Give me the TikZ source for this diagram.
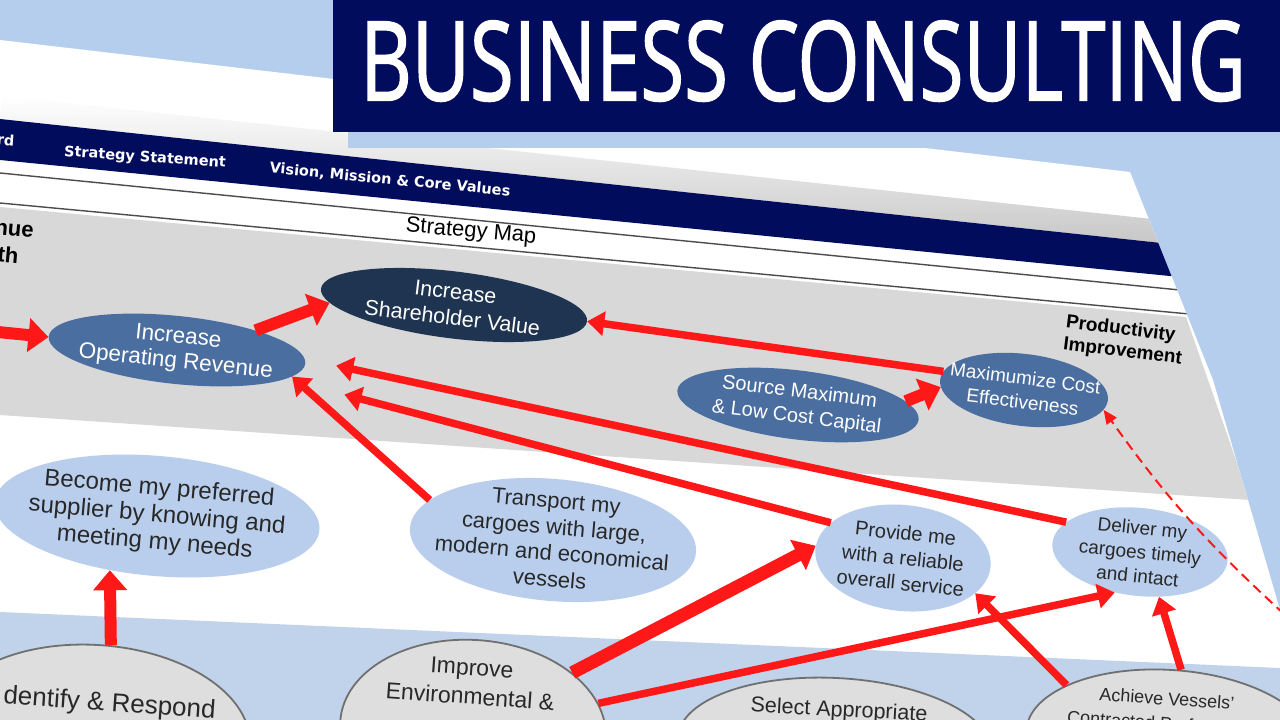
\documentclass[tikz,border=0pt]{standalone}
\usepackage{fontspec}
\setmainfont{Liberation Sans}
\newfontfamily\tabfont{DejaVu Sans}
\newfontfamily\bannerfont{Open Sans}[FakeBold=1.6]
\usetikzlibrary{shapes.geometric,arrows.meta,positioning}

\definecolor{bgblue}{RGB}{181,206,238}
\definecolor{lowband}{RGB}{192,211,235}
\definecolor{navy}{RGB}{2,12,92}
\definecolor{bandgray}{RGB}{216,216,216}
\definecolor{midblue}{RGB}{75,110,160}
\definecolor{darkslate}{RGB}{31,52,80}
\definecolor{paleblue}{RGB}{185,206,236}
\definecolor{ovalgray}{RGB}{222,222,222}
\definecolor{ovalline}{RGB}{112,112,112}
\definecolor{mapred}{RGB}{255,24,24}
\definecolor{inktext}{RGB}{40,40,40}

\newcommand{\fsz}[2]{\fontsize{#1}{#2}\selectfont}

\begin{document}
\begin{tikzpicture}[
    x=1pt, y=-1pt,
    goal/.style={ellipse, inner xsep=-150pt, inner ysep=-60pt, align=center},
    finance/.style={goal, fill=midblue, text=white},
    customer/.style={goal, fill=paleblue, text=inktext},
    process/.style={goal, fill=ovalgray, draw=ovalline, line width=1.8pt},
    tablabel/.style={text=white, font=\tabfont\bfseries\fsz{14.5}{17}},
    arrow/.style={-{Triangle[length=17pt,width=24pt]}, line width=7.5pt, draw=mapred},
    fatarrow/.style={-{Triangle[length=20pt,width=33pt]}, line width=12pt, draw=mapred}
]
\useasboundingbox (0,0) rectangle (1280,720);
\clip (0,0) rectangle (1280,720);

% Background and sheet
\fill[bgblue] (0,0) rectangle (1280,720);
\begin{scope}
\clip (0,40) -- (1130,172) -- (1213,380) -- (1280,610) -- (1280,720) -- (0,720) -- cycle;
\fill[white] (0,0) rectangle (1280,720);
\shade[top color=white, bottom color=black!22, rotate around={-6.1:(0,119)}] (0,96) rectangle (1180,119);

% Header band and rules
\fill[navy] (0,119) -- (1180,245) -- (1190,278) -- (0,160) -- cycle;
\draw[black!70, line width=1.4pt] (0,173) -- (1200,292);
\draw[black!70, line width=1.4pt] (0,203) -- (1200,315);

% Perspective bands
\fill[bandgray] (0,207) -- (1186,317) -- (1250,500) -- (0,415) -- cycle;
\fill[lowband] (0,612) -- (1280,668) -- (1280,720) -- (0,720) -- cycle;
\end{scope}

% Banner
\fill[bgblue] (348,130) rectangle (1280,148);
\fill[navy] (333,0) rectangle (1280,132);
\node[text=white, font=\bannerfont\fsz{110}{110}, xscale=0.725] (title) at (803,61) {BUSINESS CONSULTING};

% Tabs
\node[tablabel, anchor=east, rotate=-4] (tabA) at (18,141) {rd};
\node[tablabel, rotate=-4] (tabB) at (145,158) {Strategy Statement};
\node[tablabel, rotate=-5.5] (tabC) at (390,180) {Vision, Mission \& Core Values};

\node[font=\fsz{22}{24}, rotate=-5] (smap) at (471,232) {Strategy Map};

% Perspective labels
\node[font=\bfseries\fsz{22}{24}, anchor=east, rotate=-5] (revA) at (37,232) {nue};
\node[font=\bfseries\fsz{22}{24}, anchor=east, rotate=-5] (revB) at (22,256) {th};
\node[font=\bfseries\fsz{19}{22}, align=left, rotate=-7] (prod) at (1124,341) {Productivity\\Improvement};

% Financial goals
\node[finance, minimum width=258pt, minimum height=68pt, rotate=-6, font=\fsz{22.5}{25}] (opr) at (177,350) {Increase\\Operating Revenue};
\node[finance, fill=darkslate, minimum width=268pt, minimum height=67pt, rotate=-7, font=\fsz{21.5}{26}] (shv) at (454,305) {Increase\\Shareholder Value};
\node[finance, minimum width=243pt, minimum height=69pt, rotate=-7, font=\fsz{20}{25}] (smc) at (798,405) {Source Maximum\\\& Low Cost Capital};
\node[finance, minimum width=169pt, minimum height=72pt, rotate=-7, font=\fsz{19}{24}] (mce) at (1024,390) {Maximumize Cost\\Effectiveness};

% Customer goals
\node[customer, minimum width=326pt, minimum height=120pt, rotate=-5, font=\fsz{24}{27}] (bpr) at (157,516) {Become my preferred\\supplier by knowing and\\meeting my needs};
\node[customer, minimum width=287pt, minimum height=122pt, rotate=-5, font=\fsz{22}{26}] (tmc) at (553,540) {Transport my\\cargoes with large,\\modern and economical\\vessels};
\node[customer, minimum width=176pt, minimum height=106pt, rotate=-6, font=\fsz{20}{25}] (prs) at (903,558) {Provide me\\with a reliable\\overall service};
\node[customer, minimum width=176pt, minimum height=88pt, rotate=-6, font=\fsz{19}{24}] (dct) at (1140,552) {Deliver my\\cargoes timely\\and intact};

% Process goals
\node[process, minimum width=310pt, minimum height=180pt, rotate=-4] (ird) at (95,735) {};
\node[process, minimum width=266pt, minimum height=180pt, rotate=-4] (iesp) at (473,730) {};
\node[process, minimum width=314pt, minimum height=134pt, rotate=-3] (sap) at (835,745) {};
\node[process, minimum width=288pt, minimum height=140pt, rotate=-4] (ave) at (1170,740) {};

\node[font=\fsz{26}{30}, text=inktext, anchor=west, rotate=-4] (irdt) at (0,697) {dentify \& Respond};
\node[font=\fsz{23}{29}, text=inktext, align=center, rotate=-4] (iespt) at (471,682) {Improve\\Environmental \&};
\node[font=\fsz{21.5}{25}, text=inktext, rotate=-3] (sapt) at (839,711) {Select Appropriate};
\node[font=\fsz{18}{25}, text=inktext, align=center, rotate=-4] (avet) at (1166,711) {Achieve Vessels'\\Contracted Performance};

% Links
\coordinate (inL) at (-2,332);
\draw[fatarrow] (inL) -- (opr);
\draw[fatarrow] (opr.20) -- (shv.186);
\draw[arrow] (mce.174) -- (shv.0);
\draw[fatarrow] (smc.9) -- (mce.185);
\draw[arrow] (tmc.167) -- (opr.-7);
\draw[arrow, shorten >=61pt] (prs.160) -- (opr.-9);
\draw[arrow, shorten >=32pt] (dct.164) -- (opr.2);
\draw[fatarrow] (ird.84) -- (bpr.234);
\draw[fatarrow, line width=13pt] (iesp.34) -- (prs.178);
\draw[arrow] (iesp.16) -- (dct.244);
\draw[arrow] (ave.156) -- (prs.-20);
\draw[arrow] (ave.85) -- (dct.-61);

\coordinate (dashS) at (1284,614);
\draw[mapred, line width=2pt, dash pattern=on 10pt off 6pt, -{Triangle[length=14pt,width=12pt]}] (dashS) to[bend left=6] (mce.-7);

\end{tikzpicture}
\end{document}
